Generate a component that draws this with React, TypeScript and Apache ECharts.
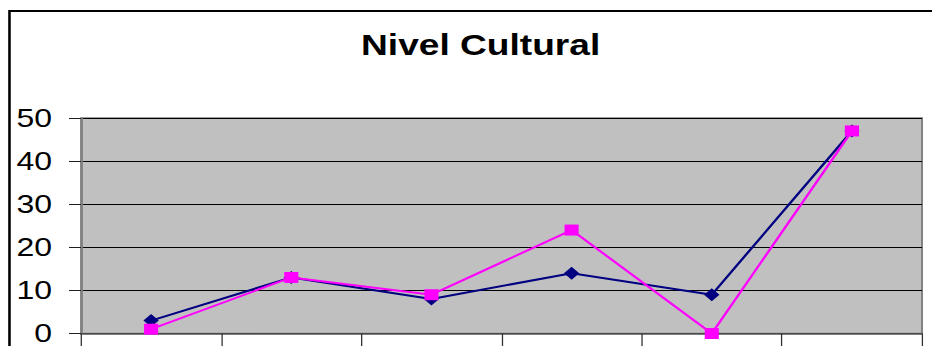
import React, { useEffect, useRef } from "react";
import * as echarts from "echarts";

const categories = [
  "Analfabeto",
  "Primaria incompleta",
  "Primaria completa",
  "Secundaria incompleta",
  "Secundaria completa",
  "Superior",
];
const serie1 = [3, 13, 8, 14, 9, 47];
const serie2 = [1, 13, 9, 24, 0, 47];
const yMin = 0;
const yMax = 50;
const yInterval = 10;

const W = 728;
const H = 346;
const S = 932 / W;

export default function App() {
  const ref = useRef<HTMLDivElement>(null);
  useEffect(() => {
    if (!ref.current) return;
    const chart = echarts.init(ref.current, null, { renderer: "svg" });
    chart.setOption({
      animation: false,
      backgroundColor: "#ffffff",
      title: {
        text: "Nivel Cultural",
        left: 282,
        top: 30,
        padding: 0,
        textStyle: {
          fontFamily: "Liberation Sans, Arial, sans-serif",
          fontWeight: "bold",
          fontSize: 29,
          color: "#000000",
        },
      },
      graphic: [
        {
          type: "rect",
          shape: { x: 7.4, y: 11, width: 900, height: 500 },
          style: { fill: "none", stroke: "#000000", lineWidth: 2 },
          z: 100,
        },
      ],
      grid: {
        left: 63.3,
        right: 7.8,
        top: 118,
        bottom: 11,
        show: true,
        backgroundColor: "#C0C0C0",
        borderColor: "#808080",
        borderWidth: 1.5,
      },
      xAxis: {
        type: "category",
        data: categories,
        boundaryGap: true,
        axisLine: { show: true, lineStyle: { color: "#606060", width: 1.5 } },
        axisTick: {
          show: true,
          interval: 0,
          alignWithLabel: false,
          length: 14,
          lineStyle: { color: "#303030", width: 1 },
        },
        axisLabel: { show: false, interval: 0 },
        splitLine: { show: false },
      },
      yAxis: {
        type: "value",
        min: yMin,
        max: yMax,
        interval: yInterval,
        axisLine: { show: true, lineStyle: { color: "#808080", width: 1.5 } },
        axisTick: {
          show: true,
          length: 9.4,
          lineStyle: { color: "#202020", width: 1 },
        },
        axisLabel: {
          margin: 22.7,
          fontFamily: "Liberation Sans, Arial, sans-serif",
          fontSize: 25,
          color: "#000000",
        },
        splitLine: { show: true, lineStyle: { color: "#000000", width: 1 } },
      },
      series: [
        {
          name: "Serie1",
          type: "line",
          data: serie1,
          symbol: "diamond",
          symbolSize: [12, 13],
          lineStyle: { color: "#000080", width: 2 },
          itemStyle: { color: "#000080" },
          z: 3,
        },
        {
          name: "Serie2",
          type: "line",
          data: serie2,
          symbol: "rect",
          symbolSize: [11, 11],
          lineStyle: { color: "#FF00FF", width: 2 },
          itemStyle: { color: "#FF00FF" },
          z: 4,
        },
      ],
    });
    return () => chart.dispose();
  }, []);
  return (
    <div
      ref={ref}
      style={{
        position: "absolute",
        left: 0,
        top: 0,
        width: W,
        height: H,
        transform: `scaleX(${S})`,
        transformOrigin: "0 0",
      }}
    />
  );
}
